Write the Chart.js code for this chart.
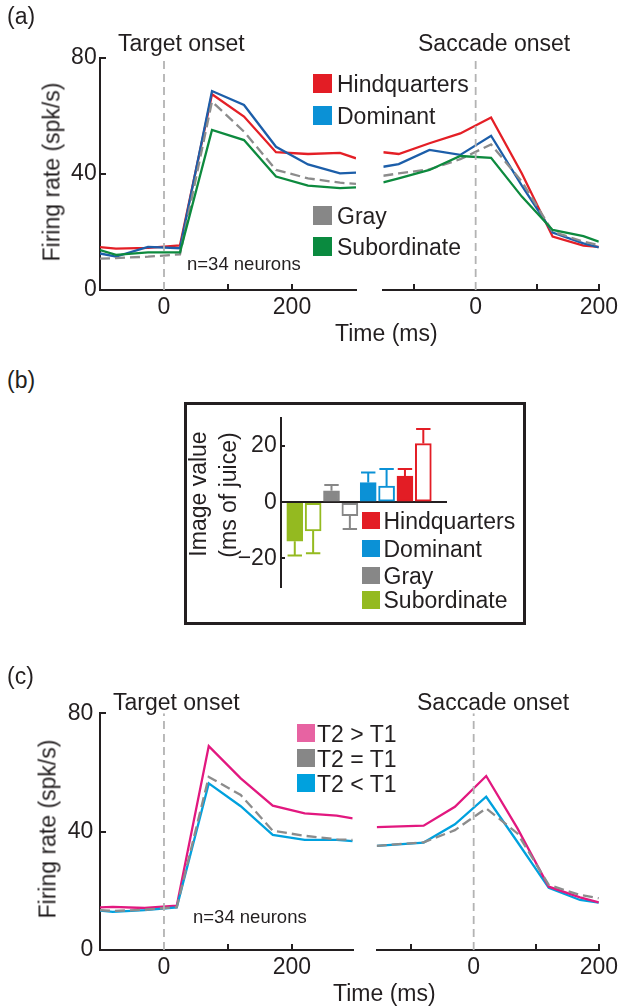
<!DOCTYPE html>
<html>
<head>
<meta charset="utf-8">
<script src="https://cdn.jsdelivr.net/npm/chart.js@4.4.0/dist/chart.umd.min.js"></script>
<style>
  body { margin: 0; background: #fff; width: 628px; height: 1008px; position: relative; overflow: hidden;
         font-family: "Liberation Sans", Arial, sans-serif; color: #231f20; }
  canvas { position: absolute; }
  .t { position: absolute; white-space: nowrap; line-height: 1; transform: translateY(-50%); }
  .r { position: absolute; white-space: nowrap; line-height: 1; transform: translate(-50%, -50%) rotate(-90deg); }
  .sq { position: absolute; }
  #box { position: absolute; left: 184px; top: 402px; width: 342px; height: 223px; box-sizing: border-box; border: 3px solid #231f20; }
</style>
</head>
<body>
<div id="box"></div>
<canvas id="aT" width="370" height="330" style="left:0;top:0"></canvas>
<canvas id="aS" width="268" height="330" style="left:360px;top:0"></canvas>
<canvas id="bB" width="338" height="245" style="left:186px;top:380px"></canvas>
<canvas id="cT" width="370" height="330" style="left:0;top:660px"></canvas>
<canvas id="cS" width="268" height="330" style="left:360px;top:660px"></canvas>
<script>
// (a) firing rate by image category, aligned on target onset
const tTarget = [-100, -75, -25, 25, 75, 125, 175, 225, 275, 300];
const aTargetHind = [14.8, 14.3, 14.5, 15.4, 67.5, 59.8, 47.5, 46.9, 47.3, 45.4];
const aTargetDom  = [12.6, 11.5, 14.9, 14.4, 68.6, 63.8, 49.4, 43.3, 40.2, 40.5];
const aTargetGray = [10.8, 11.0, 11.5, 12.3, 65.0, 54.6, 41.4, 38.5, 37.0, 36.6];
const aTargetSub  = [13.8, 12.1, 13.0, 13.0, 55.2, 51.7, 39.1, 36.0, 35.1, 35.4];
// (a) aligned on saccade onset
const tSaccade = [-150, -125, -75, -25, 25, 75, 125, 175, 200];
const aSacHind = [47.5, 46.9, 50.6, 54.0, 59.5, 40.2, 18.4, 15.3, 14.9];
const aSacDom  = [42.5, 43.4, 48.3, 46.6, 53.2, 36.0, 19.8, 16.1, 14.7];
const aSacGray = [39.4, 40.2, 41.6, 45.1, 50.2, 37.4, 20.1, 16.7, 15.5];
const aSacSub  = [37.1, 38.5, 41.4, 46.2, 45.6, 32.2, 20.7, 18.6, 16.7];

// (b) image value, ms of juice (filled / open bar pairs)
const barCats   = ['Subordinate', 'Subordinate', 'Gray', 'Gray', 'Dominant', 'Dominant', 'Hindquarters', 'Hindquarters'];
const barFilled = [true, false, true, false, true, false, true, false];
const barValues = [-13.9, -10.2, 4.1, -4.8, 7.0, 5.8, 9.3, 20.9];
const barErrEnd = [-19.0, -18.2, 6.1, -9.5, 10.6, 11.8, 11.8, 26.1];
const barTicks  = [-20, 0, 20];

// (c) firing rate by T2 vs T1 value
const tTargetC = [-100, -80, -30, 20, 70, 120, 170, 220, 270, 295];
const cTargetHigh = [14.4, 14.6, 14.2, 15.0, 68.9, 58.0, 48.8, 46.2, 45.4, 44.5];
const cTargetEq   = [13.5, 13.2, 13.6, 14.5, 58.5, 52.4, 40.3, 38.6, 37.4, 37.2];
const cTargetLow  = [13.3, 12.9, 13.5, 14.4, 56.3, 48.6, 38.9, 37.2, 37.2, 36.8];
const tSaccadeC = [-155, -80, -30, 20, 70, 120, 170, 200];
const cSacHigh = [41.5, 42.0, 48.4, 58.8, 41.1, 21.4, 17.8, 16.1];
const cSacEq   = [35.2, 36.4, 40.5, 47.9, 39.4, 22.0, 18.6, 17.5];
const cSacLow  = [35.2, 36.3, 42.5, 51.8, 36.5, 21.0, 16.9, 16.0];

const targetTicks = [0, 100, 200];
const saccadeTicks = [-100, 0, 100, 200];
const xLabelTicks = [0, 200];
const rateTicks = [0, 40, 80];
const onsetX = 0;
const onsetSpan = [0, 80];

const ink = '#231f20';
Chart.defaults.font.family = '"Liberation Sans", Arial, sans-serif';
Chart.defaults.color = ink;

const lineCol = { hind: '#e41f26', dom: '#1c5ea9', gray: '#8c8c8c', sub: '#0d8a3e', high: '#e2187f', low: '#00a1de' };
const catCol = { Hindquarters: '#e31d25', Dominant: '#0b91d6', Gray: '#878787', Subordinate: '#94ba20' };

const setTicks = vals => s => { s.ticks = vals.map(v => ({ value: v })); };

function lineChart(id, xs, series, o) {
  const datasets = [{
    data: onsetSpan.map(v => ({ x: onsetX, y: v })),
    borderColor: '#b3b3b3', borderWidth: 1.8, borderDash: [8, 5], pointRadius: 0
  }].concat(series.map(s => ({
    data: xs.map((x, i) => ({ x: x, y: s.values[i] })),
    borderColor: s.color, borderWidth: 2.3, borderDash: s.dash || [], pointRadius: 0
  })));
  const y = { min: 0, max: 80, display: o.showY,
    afterBuildTicks: setTicks(rateTicks),
    border: { color: ink, width: 2 },
    grid: { drawOnChartArea: false, tickLength: -6, lineWidth: 2, tickColor: c => c.tick.value === 0 ? 'transparent' : ink },
    ticks: { padding: o.yPad, font: { size: 23 } } };
  if (o.showY) y.afterFit = s => { s.width = 100; };
  return new Chart(document.getElementById(id), {
    type: 'line',
    data: { datasets: datasets },
    options: {
      responsive: false, animation: false,
      layout: { padding: o.pad },
      plugins: { legend: { display: false }, tooltip: { enabled: false } },
      scales: {
        x: { type: 'linear', min: o.xMin, max: o.xMax,
          afterBuildTicks: setTicks(o.ticks),
          afterFit: s => { s.height = 40; },
          border: { color: ink, width: 2 },
          grid: { drawOnChartArea: false, tickLength: -6, lineWidth: 2,
                  tickColor: c => c.tick.value === 0 ? 'transparent' : ink },
          ticks: { padding: 10, maxRotation: 0, autoSkip: false, font: { size: 23 },
                   callback: v => xLabelTicks.includes(v) ? String(v) : '' } },
        y: y
      }
    }
  });
}

lineChart('aT', tTarget, [
  { values: aTargetSub, color: lineCol.sub },
  { values: aTargetGray, color: lineCol.gray, dash: [10, 5] },
  { values: aTargetDom, color: lineCol.dom },
  { values: aTargetHind, color: lineCol.hind }
], { showY: true, yPad: 9.3, xMin: -100, xMax: 300, ticks: targetTicks, pad: { left: 0, top: 58, right: 14, bottom: 0 } });

lineChart('aS', tSaccade, [
  { values: aSacSub, color: lineCol.sub },
  { values: aSacGray, color: lineCol.gray, dash: [10, 5] },
  { values: aSacDom, color: lineCol.dom },
  { values: aSacHind, color: lineCol.hind }
], { showY: false, xMin: -150, xMax: 200, ticks: saccadeTicks, pad: { left: 23.3, top: 58, right: 21.3, bottom: 0 } });

lineChart('cT', tTargetC, [
  { values: cTargetEq, color: lineCol.gray, dash: [10, 5] },
  { values: cTargetLow, color: lineCol.low },
  { values: cTargetHigh, color: lineCol.high }
], { showY: true, yPad: 12.7, xMin: -100, xMax: 295, ticks: targetTicks, pad: { left: 0, top: 53.3, right: 17.3, bottom: 0 } });

lineChart('cS', tSaccadeC, [
  { values: cSacEq, color: lineCol.gray, dash: [10, 5] },
  { values: cSacHigh, color: lineCol.high },
  { values: cSacLow, color: lineCol.low }
], { showY: false, xMin: -155, xMax: 200, ticks: saccadeTicks, pad: { left: 16.7, top: 53.3, right: 23.7, bottom: 0 } });

// one-sided error bars, drawn from the bar end outward
const errorBars = {
  id: 'errorBars',
  afterDatasetsDraw(chart) {
    const ctx = chart.ctx;
    const ys = chart.scales.y;
    ctx.save();
    ctx.lineWidth = 2;
    chart.getDatasetMeta(0).data.forEach((bar, i) => {
      const yEnd = ys.getPixelForValue(barErrEnd[i]);
      const half = bar.width * 0.45;
      ctx.strokeStyle = catCol[barCats[i]];
      ctx.beginPath();
      ctx.moveTo(bar.x, bar.y);
      ctx.lineTo(bar.x, yEnd);
      ctx.moveTo(bar.x - half, yEnd);
      ctx.lineTo(bar.x + half, yEnd);
      ctx.stroke();
    });
    ctx.restore();
  }
};

new Chart(document.getElementById('bB'), {
  type: 'bar',
  data: { datasets: [{
    data: barValues.map((v, i) => ({ x: i, y: v })),
    backgroundColor: barCats.map((c, i) => barFilled[i] ? catCol[c] : '#fff'),
    borderColor: barCats.map(c => catCol[c]),
    borderWidth: 2, borderSkipped: false, barThickness: 16
  }] },
  options: {
    responsive: false, animation: false,
    layout: { padding: { left: 0, top: 38, right: 77, bottom: 38.5 } },
    plugins: { legend: { display: false }, tooltip: { enabled: false } },
    scales: {
      x: { type: 'linear', min: -0.75, max: 8.29, offset: false, grid: { offset: false }, display: false },
      y: { min: -30, max: 30, afterFit: s => { s.width = 95; },
        afterBuildTicks: setTicks(barTicks),
        border: { color: ink, width: 2 },
        grid: { lineWidth: 2, tickLength: -4, tickColor: ink,
                color: c => c.tick.value === 0 ? ink : 'transparent' },
        ticks: { padding: 8.3, font: { size: 23 },
                 callback: v => v < 0 ? '\u2212' + Math.abs(v) : String(v) } }
    }
  },
  plugins: [errorBars]
});

// text and legends
function txt(s, x, y, size) {
  const d = document.createElement('div');
  d.className = 't';
  d.textContent = s;
  d.style.left = x + 'px'; d.style.top = y + 'px'; d.style.fontSize = size + 'px';
  document.body.appendChild(d);
}
function vtxt(s, x, y, size) {
  const d = document.createElement('div');
  d.className = 'r';
  d.textContent = s;
  d.style.left = x + 'px'; d.style.top = y + 'px'; d.style.fontSize = size + 'px';
  document.body.appendChild(d);
}
function sq(color, x, y, size) {
  const d = document.createElement('div');
  d.className = 'sq';
  d.style.cssText = 'left:' + x + 'px;top:' + y + 'px;width:' + size + 'px;height:' + size + 'px;background:' + color;
  document.body.appendChild(d);
}

// panel (a)
txt('(a)', 7, 16, 23);
txt('Target onset', 118, 43, 23);
txt('Saccade onset', 418, 43, 23);
vtxt('Firing rate (spk/s)', 52, 172, 23);
txt('n=34 neurons', 187, 264, 18.5);
txt('Time (ms)', 335, 333, 23);
[['Hindquarters', '#e31d25', 74], ['Dominant', '#0b91d6', 106], ['Gray', '#878787', 206], ['Subordinate', '#0a8a3f', 237]]
  .forEach(e => { sq(e[1], 313, e[2], 19); txt(e[0], 337, e[2] + 10, 23); });

// panel (b)
txt('(b)', 7, 380, 23);
vtxt('Image value', 198, 494, 23);
vtxt('(ms of juice)', 228, 495, 23);
[['Hindquarters', 511.5], ['Dominant', 539.5], ['Gray', 566.5], ['Subordinate', 591]]
  .forEach(e => { sq(catCol[e[0]], 362, e[1], 17.5); txt(e[0], 383.5, e[1] + 9, 23); });

// panel (c)
txt('(c)', 7, 676, 23);
txt('Target onset', 113, 702, 23);
txt('Saccade onset', 417, 702, 23);
vtxt('Firing rate (spk/s)', 48, 829, 23);
txt('n=34 neurons', 193, 917, 18.5);
txt('Time (ms)', 333, 993, 23);
[['T2 > T1', '#e763a2', 724], ['T2 = T1', '#878787', 749], ['T2 < T1', '#00a1de', 774]]
  .forEach(e => { sq(e[1], 297, e[2], 18); txt(e[0], 317, e[2] + 9.5, 23); });
</script>
</body>
</html>
